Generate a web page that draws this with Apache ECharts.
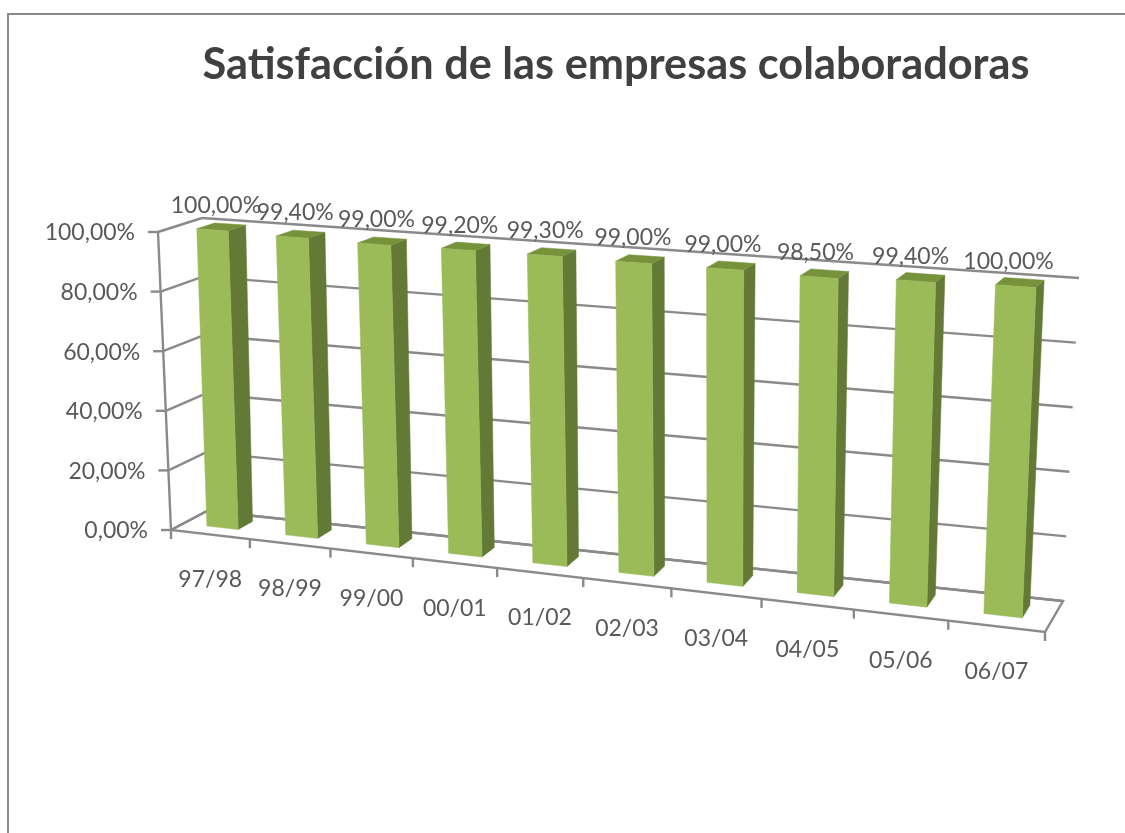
<!DOCTYPE html>
<html>
<head>
<meta charset="utf-8">
<style>
html, body { margin: 0; padding: 0; background: #fff; }
#chart { width: 1125px; height: 833px; }
</style>
<script src="https://cdn.jsdelivr.net/npm/echarts@6/dist/echarts.min.js"></script>
</head>
<body>
<div id="chart"></div>
<script>
const categories = ['97/98', '98/99', '99/00', '00/01', '01/02', '02/03', '03/04', '04/05', '05/06', '06/07'];
const satisfaction = [100, 99.4, 99, 99.2, 99.3, 99, 99, 98.5, 99.4, 100];
const valueTicks = [0, 20, 40, 60, 80, 100];

const fmt = (v) => v.toFixed(2).replace('.', ',') + '%';

// hidden cartesian grid, the scales are read from it and bent into the 3d view
const GRID = {left: 100, top: 100, width: 900, height: 500};

// corners of the plot box as seen in the picture: [floor, top] for each vertical edge
const FRONT_L = [[171, 530], [158, 232]];
const FRONT_R = [[1045, 632], [1060, 296]];
const BACK_L = [[207, 511], [202, 218]];
const BACK_R = [[1063, 601], [1079, 278]];
const PERSP_FLOOR = 1.12;
const PERSP_TOP = 1.15;

const mix = (a, b, k) => [a[0] + (b[0] - a[0]) * k, a[1] + (b[1] - a[1]) * k];

// t: across categories, d: depth, v: height, all 0..1
function project(t, d, v) {
    const k = PERSP_FLOOR + (PERSP_TOP - PERSP_FLOOR) * v;
    const u = t / (t + (1 - t) * k);
    const fl = mix(FRONT_L[0], FRONT_L[1], v);
    const fr = mix(FRONT_R[0], FRONT_R[1], v);
    const bl = mix(BACK_L[0], BACK_L[1], v);
    const br = mix(BACK_R[0], BACK_R[1], v);
    return mix(mix(fl, fr, u), mix(bl, br, u), d);
}

const toT = (x) => (x - GRID.left) / GRID.width;
const toV = (y) => (GRID.top + GRID.height - y) / GRID.height;

const LINE = {stroke: '#8a8a8a', lineWidth: 2.4, fill: null};
const TEXT_FILL = '#595959';
const FONT = '23px Lato';

const line = (a, b) => ({
    type: 'polyline',
    shape: {points: [a, b]},
    style: LINE,
});
const poly = (points, fill) => ({
    type: 'polygon',
    shape: {points: points},
    style: {fill: fill, stroke: fill, lineWidth: 0.5},
});
const label = (text, x, y, align) => ({
    type: 'text',
    x: x,
    y: y,
    style: {text: text, font: FONT, fill: TEXT_FILL, align: align || 'center', verticalAlign: 'middle'},
});

function renderWall(params, api) {
    const value = api.value(0);
    const v = toV(api.coord([0, value])[1]);
    const corner = project(0, 0, v);
    const back = project(0, 1, v);
    const right = project(1, 1, v);
    return {
        type: 'group',
        children: [
            line([corner[0] - 10, corner[1]], corner),
            line(corner, back),
            line(back, right),
            label(fmt(value), corner[0] - 23, corner[1] + 1, 'right'),
        ],
    };
}

function renderFloor(params, api) {
    const index = api.value(0);
    const band = api.size([1, 0])[0] / GRID.width;
    const mid = toT(api.coord([index, 0])[0]);
    const end = project(mid + band / 2, 0, 0);
    const pos = project(mid, 0, 0);
    return {
        type: 'group',
        children: [
            line(end, [end[0], end[1] + 9]),
            label(categories[index], pos[0], pos[1] + 45),
        ],
    };
}

function renderBar(params, api) {
    const index = api.value(0);
    const value = api.value(1);
    const band = api.size([1, 0])[0] / GRID.width;
    const mid = toT(api.coord([index, value])[0]);
    const v = toV(api.coord([index, value])[1]);
    const t0 = mid - band * 0.2;
    const t1 = mid + band * 0.2;
    const d0 = 0.35;
    const d1 = 0.76;
    const top = project(mid, 0.5, v);
    return {
        type: 'group',
        children: [
            poly([project(t1, d0, 0), project(t1, d1, 0), project(t1, d1, v), project(t1, d0, v)], '#637a36'),
            poly([project(t0, d0, v), project(t1, d0, v), project(t1, d1, v), project(t0, d1, v)], '#76933c'),
            poly([project(t0, d0, 0), project(t1, d0, 0), project(t1, d0, v), project(t0, d0, v)], '#9bbb59'),
            label(fmt(value), top[0] - 3 - 8 * mid * mid, top[1] - 22),
        ],
    };
}

const chart = echarts.init(document.getElementById('chart'));
chart.setOption({
    animation: false,
    backgroundColor: '#fff',
    title: {
        text: 'Satisfacción de las empresas colaboradoras',
        left: 611,
        top: 39,
        textAlign: 'center',
        textStyle: {fontFamily: 'Lato', fontWeight: 'bold', fontSize: 43.3, color: '#404040'},
    },
    grid: GRID,
    xAxis: {type: 'category', data: categories, show: false},
    yAxis: {type: 'value', min: 0, max: 100, interval: 20, show: false},
    graphic: [{
        type: 'polyline',
        silent: true,
        shape: {points: [[8, 833], [8, 14], [1125, 14]]},
        style: {stroke: '#8a8a8a', lineWidth: 2, fill: null},
    }, {
        type: 'polyline',
        silent: true,
        z: 0,
        shape: {points: [project(0, 0, 1), project(0, 0, 0), project(1, 0, 0), project(1, 1, 0), project(0, 1, 0), project(0, 0, 0)]},
        style: LINE,
    }, {
        type: 'polyline',
        silent: true,
        z: 0,
        shape: {points: [project(0, 0, 0), [project(0, 0, 0)[0], project(0, 0, 0)[1] + 9]]},
        style: LINE,
    }],
    series: [
        {
            type: 'custom',
            clip: false,
            silent: true,
            z: 1,
            data: valueTicks.map((v) => [v]),
            encode: {y: 0},
            renderItem: renderWall,
        },
        {
            type: 'custom',
            clip: false,
            silent: true,
            z: 1,
            data: categories.map((c, i) => [i]),
            encode: {x: 0},
            renderItem: renderFloor,
        },
        {
            type: 'custom',
            clip: false,
            silent: true,
            z: 2,
            data: satisfaction.map((v, i) => [i, v]),
            encode: {x: 0, y: 1},
            renderItem: renderBar,
        },
    ],
});
</script>
</body>
</html>
